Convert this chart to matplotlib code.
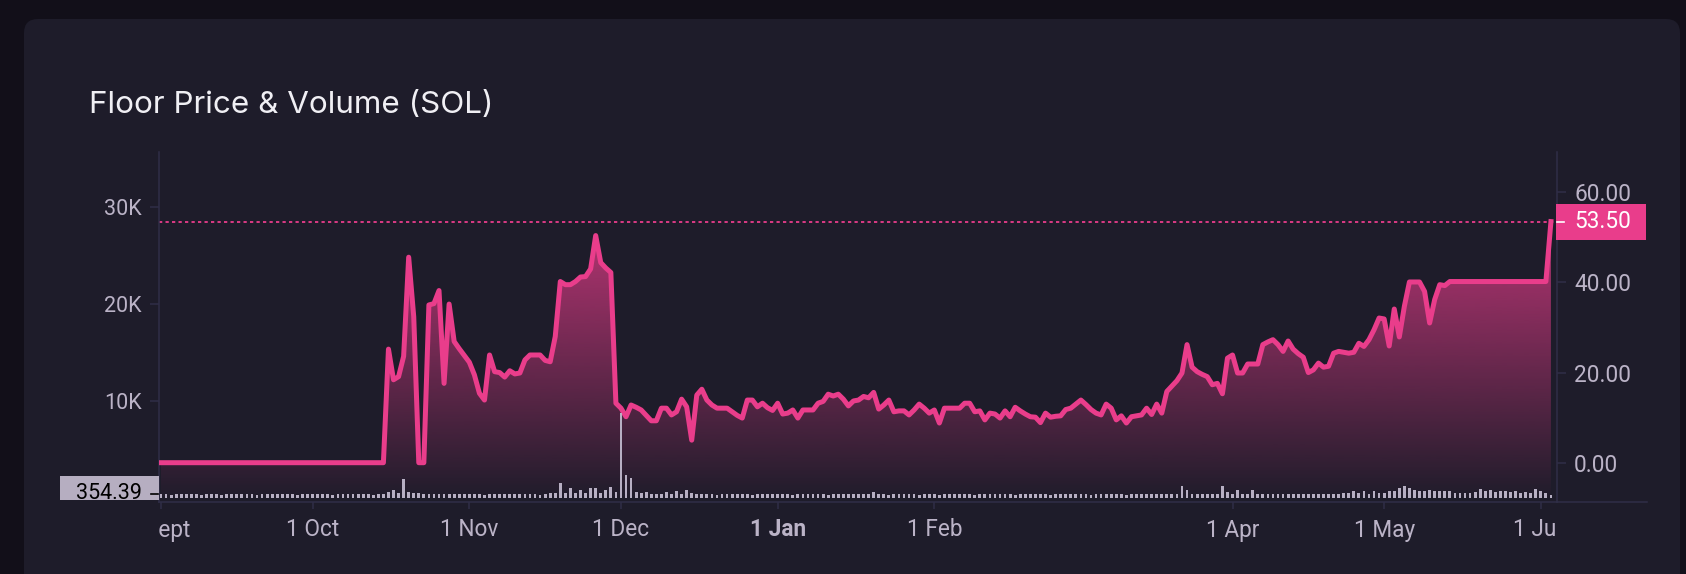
import datetime as dt
import numpy as np
import matplotlib
matplotlib.use("Agg")
import matplotlib.pyplot as plt
import matplotlib.dates as mdates
from matplotlib.patches import FancyBboxPatch, Rectangle
from matplotlib.path import Path
from matplotlib.lines import Line2D
from matplotlib.transforms import Bbox, IdentityTransform, offset_copy

# ---- data (one value per day, starting 1 Sept) ----
start_date = dt.date(2021, 9, 1)

floor_price = (
    [0.0] * 45
    + [25.2, 18.4, 19.1, 23.6, 45.6, 32.4, 0.0, 0.0, 35.0, 35.3, 38.2, 17.6, 35.2, 26.9]
    + [25.3, 23.8, 22.3, 19.5, 15.4, 13.9, 23.9, 20.2, 20.0, 19.0,
       20.4, 19.7, 19.9, 22.8, 23.9, 23.9, 23.9, 22.7, 22.4, 28.0]
    + [40.2, 39.5, 39.5, 40.2, 41.2, 41.3, 43.0, 50.4, 44.4, 43.2, 42.2]
    + [13.2, 12.1, 10.2, 12.8, 12.3, 11.7, 10.5, 9.3, 9.3, 12.1, 12.1, 10.6, 11.3]
    + [14.1, 12.4, 5.0, 15.0, 16.3, 13.9, 12.8, 12.1, 12.1, 12.1,
       11.3, 10.5, 9.9, 13.9, 13.9, 12.4, 13.2, 12.2, 11.6, 13.2]
    + [10.8, 11.0, 11.7, 9.9, 11.7, 11.7, 11.7, 13.2, 13.6, 15.2,
       14.8, 15.2, 14.1, 12.6, 13.7, 13.9, 14.7, 14.4, 15.6, 11.9]
    + [12.8, 13.9, 11.3, 11.5, 11.5, 10.6, 11.7, 13.0, 12.1, 11.0,
       11.7, 8.8, 12.1, 12.1, 12.1, 12.1, 13.2, 13.2, 11.3, 11.5]
    + [9.5, 11.0, 10.8, 9.9, 11.5, 10.2, 12.3, 11.5, 10.8, 10.2,
       10.1, 8.9, 11.0, 10.1, 10.3, 10.4, 11.8, 12.1, 13.0, 13.9]
    + [12.9, 11.8, 11.0, 10.6, 13.0, 12.1, 9.5, 10.4, 8.8, 10.2,
       10.4, 10.6, 12.1, 10.7, 13.0, 11.0, 15.8, 17.0, 18.2, 19.9]
    + [26.2, 21.2, 20.2, 19.6, 19.1, 17.3, 17.6, 15.3, 23.2, 23.9,
       19.9, 19.9, 21.9, 21.9, 21.9, 26.2, 26.8, 27.3, 26.2, 24.7]
    + [27.0, 25.2, 24.2, 23.4, 20.0, 20.6, 22.1, 21.2, 21.4, 24.3,
       24.7, 24.5, 24.3, 24.5, 26.5, 25.8, 27.3, 29.5, 32.1, 31.9]
    + [25.9, 34.1, 27.9, 34.7, 40.1, 40.1, 40.1, 38.0, 31.0, 36.2, 39.5, 39.3]
    + [40.2] * 20
    + [53.5]
)

volume = [
    380, 420, 360, 410, 390, 430, 370, 400, 350, 420,
    390, 410, 360, 430, 380, 400, 370, 420, 390, 360,
    410, 380, 430, 370, 400, 390, 420, 360, 410, 380,
    400, 370, 430, 390, 360, 420, 380, 410, 370, 400,
    390, 430, 360, 410, 380,
    600, 820, 550, 2000, 650, 500, 480, 420, 380, 450, 400, 390, 430, 380, 410,
    370, 420, 390, 400, 360, 430, 380, 410, 390, 370,
    420, 400, 380, 430, 390, 360, 410, 480, 550,
    1500, 500, 1000, 500, 850, 550, 1000, 1000, 550, 850, 1150, 650,
    8800, 2400, 2100, 650, 550, 600, 450, 420, 450, 650, 430, 700, 420, 800, 550, 420, 430,
    380, 410, 360, 420, 390, 370, 430, 380, 400, 360,
    410, 390, 420, 370, 400, 380, 430, 360, 410, 390,
    370, 420, 380, 400, 360, 430, 390, 410, 370, 400, 380,
    450, 400, 650,
    380, 420, 360, 410, 390, 430, 370, 400, 350, 420,
    390, 410, 360, 430, 380, 400, 370, 420, 390, 360,
    410, 380, 430, 370, 400, 390, 420, 360, 410, 380,
    400, 370, 430, 390, 360, 420, 380, 410, 370, 400,
    390, 430, 360, 410, 380, 420, 370, 400, 390, 360,
    430, 380, 410, 370, 420, 390, 400, 450,
    420, 450, 1200, 800, 420, 380, 430, 400, 390, 420,
    1200, 650, 420, 800, 420, 450, 800, 420,
    400, 430, 380, 420, 400, 390, 430, 380, 420, 400,
    390, 430, 380, 420, 400, 450, 500, 480,
    700, 480, 700, 450, 700, 500, 520, 750, 700, 1000,
    1200, 1000, 800, 750, 750, 780, 750, 750, 700, 750,
    550, 500, 520, 480, 600, 900, 750, 850, 600, 750,
    700, 600, 700, 550, 600, 550, 900, 700, 550, 354.39,
]

tick_dates = [dt.date(2021, 9, 1), dt.date(2021, 10, 1), dt.date(2021, 11, 1),
              dt.date(2021, 12, 1), dt.date(2022, 1, 1), dt.date(2022, 2, 1),
              dt.date(2022, 4, 1), dt.date(2022, 5, 1), dt.date(2022, 6, 1)]
tick_labels = ["Sept", "1 Oct", "1 Nov", "1 Dec", "1 Jan", "1 Feb", "1 Apr", "1 May", "1 Jun"]
price_ticks = [0, 20, 40, 60]
volume_ticks = [10000, 20000, 30000]
volume_tick_labels = ["10K", "20K", "30K"]

# ---- style ----
BG_OUTER = "#120f19"
BG_CARD = "#1e1c2a"
AXIS = "#2f2e47"
TEXT = "#bbb3c7"
PINK = "#e93d8b"
BAR = "#b7afc3"

plt.rcParams["font.family"] = ["Roboto", "DejaVu Sans"]

W, H = 1686, 574
fig = plt.figure(figsize=(W / 100, H / 100), dpi=100, facecolor=BG_OUTER)
fig.add_artist(FancyBboxPatch((24, -40), 1656, H - 19 + 40,
                              boxstyle="round,pad=0,rounding_size=14",
                              transform=IdentityTransform(),
                              facecolor=BG_CARD, edgecolor="none", zorder=-5))

fig.text(89 / W, 1 - 105 / H, "Floor Price & Volume (SOL)", family="Inter",
         fontsize=22.6, color="#f0eff4", va="center", ha="left")

L, R, T, B = 159, 1557, 152, 502
ax = fig.add_axes([L / W, 1 - B / H, (R - L) / W, (B - T) / H])
ax.set_facecolor("none")
axv = ax.twinx()

x = mdates.date2num([start_date + dt.timedelta(days=i) for i in range(len(floor_price))])
x0 = mdates.date2num(start_date) - 0.4
x1 = mdates.date2num(start_date) + 276.2
p_lo, p_hi = -8.72, 68.94
v_lo, v_hi = -412, 35633

# gradient area under the floor price
grad = np.zeros((256, 1, 4))
grad[..., :3] = matplotlib.colors.to_rgb(PINK)
grad[:, 0, 3] = np.linspace(0.0, 0.95, 256)
im = ax.imshow(grad, aspect="auto", origin="lower", extent=[x0, x1, p_lo, p_hi],
               interpolation="bilinear", zorder=1)
verts = [(x[0], p_lo)] + list(zip(x, floor_price)) + [(x[-1], p_lo), (x[0], p_lo)]
im.set_clip_path(Path(verts), transform=ax.transData)

ax.plot(x, floor_price, color=PINK, lw=3.6, solid_joinstyle="round", zorder=3)
ax.axhline(floor_price[-1], color=PINK, lw=1.3, ls=(0, (1.8, 1.8)), zorder=2)

axv.bar(x, volume, width=0.55, color=BAR, zorder=2)

ax.set_xlim(x0, x1)
ax.set_ylim(p_lo, p_hi)
axv.set_ylim(v_lo, v_hi)

# axes / ticks
ax.yaxis.tick_right()
axv.yaxis.tick_left()
for s in axv.spines.values():
    s.set_visible(False)
ax.spines["top"].set_visible(False)
for side in ["left", "right", "bottom"]:
    ax.spines[side].set_color(AXIS)
    ax.spines[side].set_linewidth(1.1)

ax.set_yticks(price_ticks)
ax.set_yticklabels([f"{v:.2f}" for v in price_ticks])
ax.tick_params(axis="y", length=6.5, width=1.1, color=AXIS, pad=5.8,
               labelsize=16.3, labelcolor=TEXT)
axv.set_yticks(volume_ticks)
axv.set_yticklabels(volume_tick_labels)
axv.tick_params(axis="y", length=6.5, width=1.1, color=AXIS, pad=6,
                labelsize=15.5, labelcolor=TEXT)

ax.set_xticks(mdates.date2num(tick_dates))
ax.set_xticklabels([])
ax.tick_params(axis="x", length=5, width=1.1, color=AXIS)

label_clip = Bbox([[L, 0], [R - 1, H]])
for d, lab in zip(tick_dates, tick_labels):
    shift = 7 if lab == "Sept" else 0
    t = ax.text(mdates.date2num(d), 0, lab, fontsize=16.3, color=TEXT,
                ha="center", va="center",
                fontweight="bold" if lab == "1 Jan" else "normal",
                transform=offset_copy(ax.get_xaxis_transform(), fig=fig,
                                      x=shift, y=-28, units="dots"))
    t.set_clip_path(None)
    t.set_clip_box(label_clip)
    t.set_clip_on(True)

# extend time-axis border under the right price scale
fig.add_artist(Line2D([R, 1647], [H - B, H - B], color=AXIS, lw=1.1,
                      transform=IdentityTransform()))

# last-value markers
py = ax.transData.transform((x0, floor_price[-1]))[1]
fig.add_artist(Rectangle((1556, py - 18), 90, 36, facecolor=PINK, edgecolor="none",
                         transform=IdentityTransform()))
fig.add_artist(Line2D([R, R + 7], [py, py], color="white", lw=1.2,
                      transform=IdentityTransform()))
fig.text(1574 / W, py / H, f"{floor_price[-1]:.2f}", color="white", fontsize=16.3,
         ha="left", va="center")

vy = axv.transData.transform((x0, volume[-1]))[1]
vclip = Bbox([[0, H - 500], [W, H]])
box = Rectangle((60, vy - 18.5), 99, 37, facecolor="#b6aec1", edgecolor="none",
                transform=IdentityTransform())
fig.add_artist(box)
box.set_clip_box(vclip)
box.set_clip_on(True)
tick = Line2D([151, 158], [vy + 1, vy + 1], color="black", lw=1.2,
              transform=IdentityTransform())
fig.add_artist(tick)
vt = fig.text(142 / W, (vy + 1.5) / H, f"{volume[-1]:.2f}", color="black", fontsize=15.5,
              ha="right", va="center")
vt.set_clip_box(vclip)
vt.set_clip_on(True)

fig.savefig("out.png", dpi=100, facecolor=BG_OUTER)
